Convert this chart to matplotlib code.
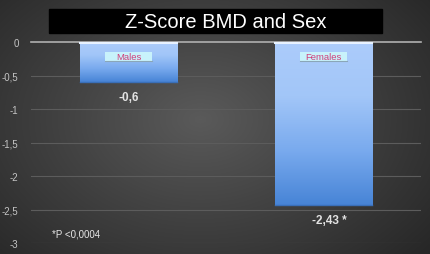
import numpy as np
import matplotlib.pyplot as plt
from matplotlib.colors import LinearSegmentedColormap
from matplotlib.patches import Rectangle

plt.rcParams['font.family'] = ['Liberation Sans', 'DejaVu Sans']

# Datos
categorias = ['Males', 'Females']
zscore = [-0.6, -2.43]
etiquetas = ['-0,6', '-2,43 *']
yticks = [0, -0.5, -1, -1.5, -2, -2.5, -3]
ytick_labels = ['0', '-0,5', '-1', '-1,5', '-2', '-2,5', '-3']
titulo = 'Z-Score BMD and Sex'
nota = '*P <0,0004'

W, H = 430, 255
fig = plt.figure(figsize=(W / 100, H / 100), dpi=100)

# Fondo con degradado radial gris
bg = fig.add_axes([0, 0, 1, 1])
yy, xx = np.mgrid[0:H, 0:W]
r = np.sqrt(((xx - 200) / 330) ** 2 + ((yy - 120) / 230) ** 2)
fondo = LinearSegmentedColormap.from_list('fondo', ['#5a5a5a', '#404040', '#272727'])
bg.imshow(r, cmap=fondo, vmin=0, vmax=0.9, aspect='auto', extent=[0, W, H, 0])
bg.set_xlim(0, W)
bg.set_ylim(H, 0)
bg.axis('off')

# Recuadro del título
bg.add_patch(Rectangle((49, 10), 333, 24, color='black', zorder=2))
bg.text(226, 22.5, titulo, color='white', fontsize=14.5, ha='center', va='center', zorder=3)

# Ejes del gráfico
ax = fig.add_axes([31 / W, 1 - 244 / H, 390 / W, 201 / H])
ax.patch.set_alpha(0)
ax.set_xlim(-0.5, 1.5)
ax.set_ylim(-3, 0)
for s in ax.spines.values():
    s.set_visible(False)
ax.set_xticks([])
ax.set_yticks(yticks)
ax.set_yticklabels(ytick_labels, color='#c4c4c4', fontsize=7)
ax.tick_params(axis='y', length=0, pad=9)
for t in yticks[1:]:
    ax.axhline(t, color='#5c5c5c', lw=0.8, zorder=0)
ax.axhline(0, color='#b0b0b0', lw=1.2, zorder=4, clip_on=False)

barra = LinearSegmentedColormap.from_list('barra', ['#4784d6', '#79aaee', '#a2c6f8', '#acccfb'])
grad = np.linspace(0, 1, 256).reshape(-1, 1)
ancho = 0.5
caja_w, caja_h = 0.236, 0.134
for i, (cat, v, et) in enumerate(zip(categorias, zscore, etiquetas)):
    b = ax.bar(i, v, width=ancho, color='none', edgecolor='none', zorder=2)[0]
    im = ax.imshow(grad, cmap=barra, aspect='auto', origin='lower',
                   extent=[i - ancho / 2, i + ancho / 2, v, 0], zorder=2)
    im.set_clip_path(b)
    ax.plot([i - ancho / 2, i + ancho / 2], [v, v], color='#3a6fb8', lw=1, zorder=3)
    ax.plot([i - ancho / 2, i + ancho / 2], [-0.01, -0.01], color='#e8f2ff', lw=1.5, zorder=5)
    # Etiqueta de categoría en recuadro
    ax.add_patch(Rectangle((i - caja_w / 2, -0.216 - caja_h / 2), caja_w, caja_h,
                           fc='#c8f2fb', ec='none', zorder=5))
    ax.plot([i - caja_w / 2, i + caja_w / 2], [-0.216 - caja_h / 2] * 2,
            color='#8aa6b8', lw=0.8, zorder=5)
    ax.text(i, -0.212, cat, color='#d0407a', fontsize=6.8, ha='center', va='center', zorder=6)
    ax.text(i + (0.03 if i else 0), v - 0.22, et, color='#e2e2e2', fontsize=8.5,
            fontweight='bold', ha='center', va='center')

ax.set_xlim(-0.5, 1.5)
ax.set_ylim(-3, 0)
ax.text(-0.392, -2.86, nota, color='#e6e6e6', fontsize=7, ha='left', va='center')

fig.savefig('out.png', dpi=100)
